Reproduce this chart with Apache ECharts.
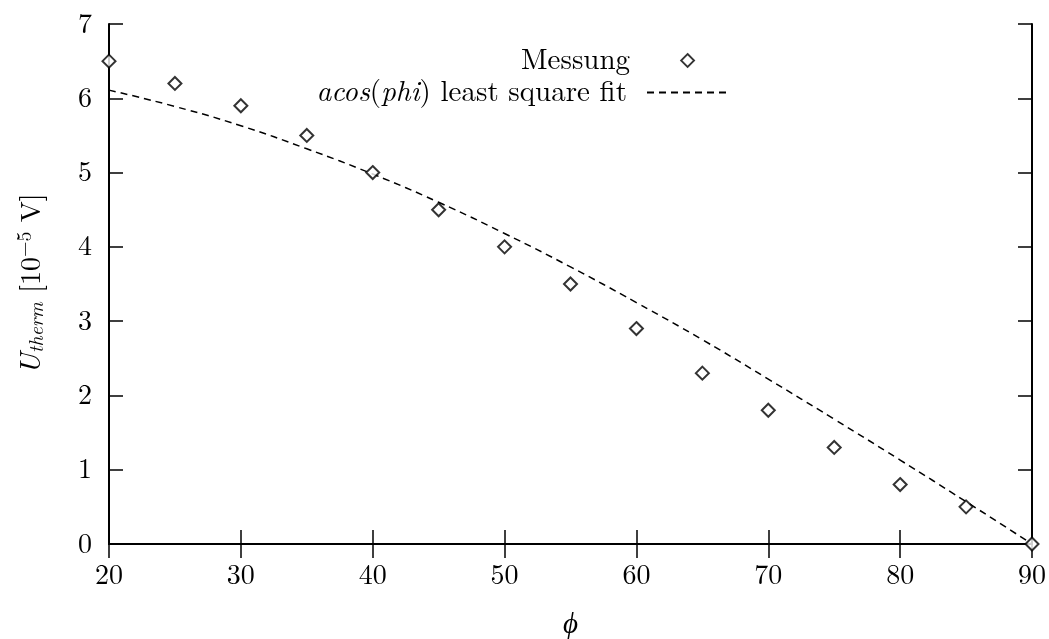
<!DOCTYPE html>
<html><head><meta charset="utf-8">
<script src="https://cdn.jsdelivr.net/npm/echarts@6/dist/echarts.min.js"></script>
<style>html,body{margin:0;padding:0;background:#fff}#c{width:1049px;height:639px}</style>
</head><body><div id="c"></div>
<script>
const phi = [20,25,30,35,40,45,50,55,60,65,70,75,80,85,90];
const messung = [6.5,6.2,5.9,5.5,5.0,4.5,4.0,3.5,2.9,2.3,1.8,1.3,0.8,0.5,0.0];
const fitPhi = [20,25,30,35,40,45,50,55,60,65,70,75,80,85,90];
const fitVals = [6.11,5.89,5.63,5.32,4.98,4.60,4.18,3.73,3.25,2.75,2.22,1.68,1.13,0.57,0.0];
const xTicks = [20,30,40,50,60,70,80,90];
const yTicks = [0,1,2,3,4,5,6,7];

const FONT = "'Latin Modern Roman','DejaVu Serif',serif";
const chart = echarts.init(document.getElementById('c'), null, {renderer:'canvas'});
const grid = {left:109, right:17, top:24, bottom:95, containLabel:false, outerBoundsMode:'none'};
const tickStyle = {show:true, inside:true, length:14, lineStyle:{color:'#000', width:1.5}};
const lineStyleAx = {show:true, lineStyle:{color:'#000', width:2}};
chart.setOption({
  animation:false,
  backgroundColor:'#fff',
  grid: grid,
  legend: [
    {data:['Messung'], right:349, top:41, orient:'vertical', align:'right', itemWidth:13, itemHeight:13,
     itemStyle:{color:'#fff', borderColor:'#000', borderWidth:1.8},
     textStyle:{fontFamily:FONT, fontSize:29, color:'#000', padding:[0,46,0,0]}},
    {data:[{name:'fit', itemStyle:{color:'rgba(0,0,0,0)', borderColor:'rgba(0,0,0,0)', borderWidth:0}}],
     right:317, top:73, orient:'vertical', align:'right', itemWidth:79, itemHeight:12,
     formatter: function(){ return '{i|acos}(' + '{i|phi}) least square fit'; },
     textStyle:{fontFamily:FONT, fontSize:29, color:'#000', padding:[0,15,0,0],
       rich:{i:{fontFamily:FONT, fontStyle:'italic', fontSize:29, color:'#000'}}}}
  ],
  xAxis: [
    {type:'value', min:20, max:90, interval:10, position:'bottom',
     axisLine:lineStyleAx, axisTick:tickStyle, splitLine:{show:false},
     axisLabel:{fontFamily:FONT, fontSize:28, color:'#000', margin:17},
     name:'\u03D5', nameLocation:'middle', nameGap:67,
     nameTextStyle:{fontFamily:"'Liberation Serif','DejaVu Serif',serif", fontSize:29, fontStyle:'italic', fontWeight:'normal', color:'#000'}},
    {type:'value', min:20, max:90, interval:10, position:'top',
     axisLine:lineStyleAx, axisTick:tickStyle, splitLine:{show:false}, axisLabel:{show:false}}
  ],
  yAxis: [
    {type:'value', min:0, max:7, interval:1, position:'left',
     axisLine:lineStyleAx, axisTick:tickStyle, splitLine:{show:false},
     axisLabel:{fontFamily:FONT, fontSize:28, color:'#000', margin:17},
     name:'{i|U}{sub|therm} [10{sup|\u22125} V]', nameLocation:'middle', nameGap:62, nameRotate:90,
     nameTextStyle:{fontFamily:FONT, fontSize:28, color:'#000',
       rich:{
         i:{fontFamily:FONT, fontStyle:'italic', fontSize:29, color:'#000'},
         sub:{fontFamily:FONT, fontStyle:'italic', fontSize:20, color:'#000', padding:[12,0,0,0]},
         sup:{fontFamily:FONT, fontSize:20, color:'#000', padding:[0,0,12,0]}
       }}},
    {type:'value', min:0, max:7, interval:1, position:'right',
     axisLine:lineStyleAx, axisTick:tickStyle, splitLine:{show:false}, axisLabel:{show:false}}
  ],
  series: [
    {name:'Messung', type:'scatter', symbol:'diamond', symbolSize:[13,13],
     itemStyle:{color:'#fff', borderColor:'#000', borderWidth:2},
     data: phi.map((p,i)=>[p, messung[i]]), z:3},
    {name:'fit', type:'line', smooth:true, showSymbol:false, symbol:'none',
     lineStyle:{color:'#000', width:1.5, type:[7,5]},
     itemStyle:{color:'#000'},
     data: fitPhi.map((p,i)=>[p, fitVals[i]]), z:2}
  ]
});
</script></body></html>
